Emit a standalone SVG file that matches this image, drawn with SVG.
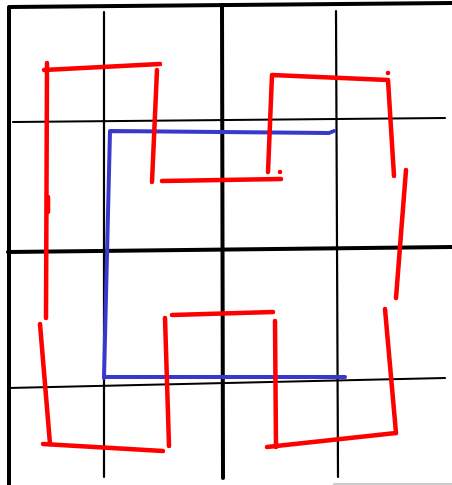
<svg xmlns="http://www.w3.org/2000/svg" width="452" height="485" viewBox="0 0 452 485">
<style>
.k{stroke:#000;fill:none;stroke-linecap:round;stroke-linejoin:round}
.thick{stroke-width:4}
.thin{stroke-width:2.2}
.r{stroke:#ff0000;stroke-width:4.5;fill:none;stroke-linecap:round;stroke-linejoin:round}
.b{stroke:#3838cc;stroke-width:4;fill:none;stroke-linecap:round;stroke-linejoin:round}
</style>
<rect width="452" height="485" fill="#fff"/>
<g id="grid">
<polyline class="k thick" points="9,486 9,7 452,3"/>
<line class="k thick" x1="222" y1="5" x2="223" y2="478"/>
<line class="k thick" x1="8" y1="252" x2="452" y2="247"/>
<line class="k thin" x1="104" y1="12" x2="104" y2="477"/>
<line class="k thin" x1="336" y1="11" x2="338" y2="477"/>
<line class="k thin" x1="13" y1="122" x2="445" y2="118"/>
<line class="k thin" x1="8" y1="388" x2="445" y2="378"/>
<line x1="333" y1="484" x2="452" y2="484" stroke="#bbb" stroke-width="1.5"/>
</g>
<g id="blue">
<polyline class="b" points="334,131 329,133 110,131 104,378"/>
<line class="b" x1="104" y1="377" x2="345" y2="377"/>
</g>
<g id="red">
<line class="r" x1="47" y1="63" x2="46" y2="318"/>
<line class="r" x1="48" y1="197" x2="48" y2="212"/>
<line class="r" x1="44" y1="70" x2="160" y2="64"/>
<line class="r" x1="157" y1="70" x2="152" y2="182"/>
<line class="r" x1="162" y1="181" x2="281" y2="179"/>
<circle cx="280" cy="172" r="2.3" fill="#ff0000"/>
<polyline class="r" points="268,172 272,75 388,80 394,176"/>
<circle cx="388" cy="73" r="2.3" fill="#ff0000"/>
<line class="r" x1="406" y1="170" x2="396" y2="298"/>
<line class="r" x1="385" y1="309" x2="396" y2="433"/>
<line class="r" x1="396" y1="433" x2="267" y2="447"/>
<line class="r" x1="276" y1="447" x2="275" y2="321"/>
<line class="r" x1="273" y1="312" x2="172" y2="315"/>
<line class="r" x1="165" y1="318" x2="169" y2="446"/>
<line class="r" x1="163" y1="451" x2="43" y2="444"/>
<line class="r" x1="50" y1="444" x2="40" y2="324"/>
</g>
</svg>
